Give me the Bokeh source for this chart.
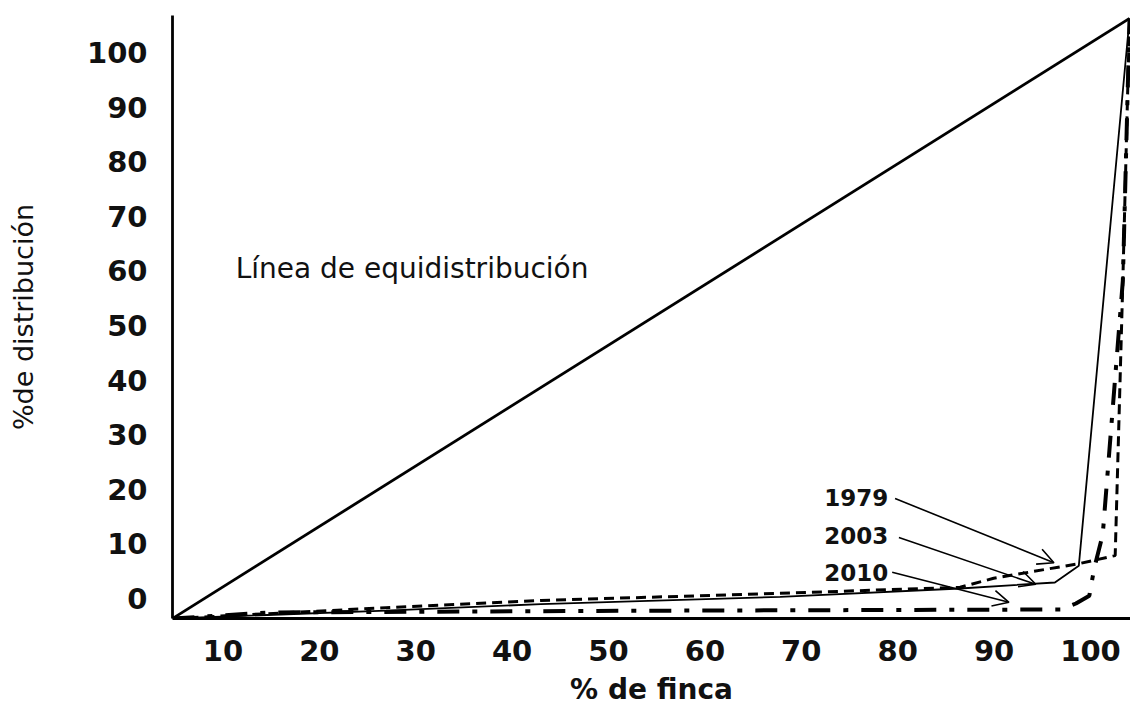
from bokeh.plotting import figure
from bokeh.models import Range1d, LinearAxis, FixedTicker, Arrow, OpenHead, ColumnDataSource
from bokeh.embed import file_html
from bokeh.resources import INLINE
from bokeh.core.properties import value

# ---------------- data ----------------
x_tick_values = [10, 20, 30, 40, 50, 60, 70, 80, 90, 100]
y_tick_values = [0, 10, 20, 30, 40, 50, 60, 70, 80, 90, 100]

equi_x = [0, 100]
equi_y = [0, 100]

x_1979 = [0, 22.3, 38.5, 63.5, 82.3, 85.8, 94.9, 98.5, 99.3, 100]
y_1979 = [0, 1.8, 3.0, 4.2, 5.2, 6.7, 9.2, 10.5, 56.3, 100]

x_2003 = [0, 22.3, 38.5, 63.5, 82.3, 92.2, 94.7, 100]
y_2003 = [0, 1.3, 2.4, 3.6, 5.0, 6.0, 8.8, 100]

x_2010 = [0, 10, 50, 92.8, 94.4, 95.8, 96.3, 97.2, 99.3, 100]
y_2010 = [0, 1.0, 1.3, 1.5, 2.5, 3.8, 8.3, 14.0, 56.3, 100]

series_names = ["1979", "2003", "2010"]
equi_label = "Línea de equidistribución"
x_title = "% de finca"
y_title = "%de distribución"

# ---------------- layout / style ----------------
# label positions (data coordinates) and arrow positions
lab_x = [74.8, 74.8, 74.8]
lab_y = [20.2, 13.8, 7.7]
arr_x0 = [75.5, 75.9, 75.2]
arr_y0 = [20.0, 13.5, 7.7]
arr_x1 = [92.1, 90.2, 87.4]
arr_y1 = [9.3, 5.7, 2.7]

p = figure(width=1130, height=709,
           x_range=Range1d(0, 100.1), y_range=Range1d(0, 100.5),
           x_axis_location=None, y_axis_location=None,
           output_backend="svg", toolbar_location=None,
           min_border_left=172, min_border_right=0,
           min_border_top=15, min_border_bottom=91,
           background_fill_color="white", border_fill_color="white",
           outline_line_color=None)
p.grid.grid_line_color = None

p.extra_x_ranges = {"xl": Range1d(4.77, 104.15)}
p.extra_y_ranges = {"yl": Range1d(-3.66, 106.8)}

xax = LinearAxis(x_range_name="xl", ticker=FixedTicker(ticks=x_tick_values),
                 axis_label=x_title)
yax = LinearAxis(y_range_name="yl", ticker=FixedTicker(ticks=y_tick_values),
                 axis_label=y_title)
for ax in (xax, yax):
    ax.axis_line_color = "black"
    ax.axis_line_width = 2.8
    ax.major_tick_line_color = None
    ax.minor_tick_line_color = None
    ax.major_tick_in = 0
    ax.major_tick_out = 0
    ax.major_label_text_font = "DejaVu Sans"
    ax.major_label_text_font_style = "bold"
    ax.major_label_text_font_size = "29px"
    ax.major_label_text_color = "#111111"
    ax.axis_label_text_color = "#111111"
    ax.axis_label_text_font = "DejaVu Sans"

xax.major_label_standoff = 21
xax.axis_label_standoff = 9
xax.axis_label_text_font_style = "bold"
xax.axis_label_text_font_size = "28px"

yax.major_label_standoff = 25
yax.axis_label_standoff = 45
yax.axis_label_text_font_style = "normal"
yax.axis_label_text_font_size = "27px"

p.add_layout(xax, "below")
p.add_layout(yax, "left")

# curves
p.line(x_2010, y_2010, line_color="black", line_width=4, line_dash="22 13 5 13")
p.line(x_1979, y_1979, line_color="black", line_width=3, line_dash="10 6")
p.line(x_2003, y_2003, line_color="black", line_width=1.8)
p.line(equi_x, equi_y, line_color="black", line_width=2.8)

# arrows from series labels
for i in range(len(series_names)):
    p.add_layout(Arrow(end=OpenHead(size=16, line_width=1.6, line_color="black"),
                       x_start=arr_x0[i], y_start=arr_y0[i],
                       x_end=arr_x1[i], y_end=arr_y1[i],
                       line_width=1.6, line_color="black"))

src = ColumnDataSource(dict(x=lab_x, y=lab_y, t=series_names))
p.text(x="x", y="y", text="t", source=src, text_align="right",
       text_baseline="middle", text_font=value("DejaVu Sans"),
       text_font_style="bold", text_font_size="23px", text_color="#111111")

p.text(x=[6.6], y=[58.3], text=[equi_label], text_align="left",
       text_baseline="alphabetic", text_font=value("DejaVu Sans"),
       text_font_size="28px", text_color="#111111")

open("out.html", "w").write(file_html(p, INLINE))
